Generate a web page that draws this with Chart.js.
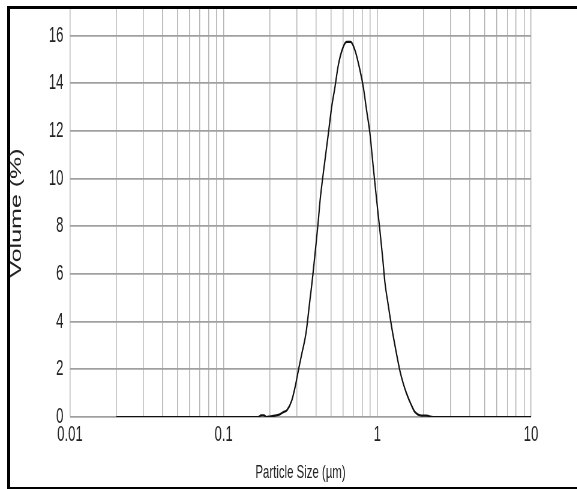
<!DOCTYPE html>
<html>
<head>
<meta charset="utf-8">
<script src="https://cdn.jsdelivr.net/npm/chart.js@4.4.1/dist/chart.umd.min.js"></script>
<style>
  html, body { margin: 0; padding: 0; background: #fff; overflow: hidden; }
  #page { position: relative; width: 577px; height: 489px; overflow: hidden; background: #fff; }
  #frame {
    position: absolute; left: 7px; top: 6px; width: 700px; height: 483px;
    box-sizing: border-box; border-top: 3px solid #000; border-left: 3px solid #000;
    border-bottom: 2px solid #000;
  }
  /* the original plot is squeezed sideways, so draw wide and squash */
  #wrap { position: absolute; left: 0; top: 0; width: 962px; height: 489px; transform: scaleX(0.6); transform-origin: 0 0; }
</style>
</head>
<body>
<div id="page">
  <div id="frame"></div>
  <div id="wrap"><canvas id="psdChart" width="962" height="489"></canvas></div>
</div>
<script>
// particle size (um) and volume (%)
const particleSize = [0.02, 0.05, 0.1, 0.15, 0.168, 0.175, 0.183, 0.19, 0.2, 0.215, 0.232, 0.244,
  0.259, 0.277, 0.291, 0.306, 0.322, 0.343, 0.364, 0.377, 0.393, 0.413, 0.424, 0.456, 0.48, 0.504,
  0.53, 0.557, 0.594, 0.631, 0.67, 0.715, 0.771, 0.81, 0.851, 0.895, 0.94, 0.99, 1.04, 1.082, 1.12,
  1.177, 1.24, 1.334, 1.4, 1.475, 1.55, 1.67, 1.76, 1.94, 2.1, 2.2, 2.3, 5, 10];
const volumePct = [0, 0, 0, 0, 0, 0.07, 0.07, 0, 0.02, 0.06, 0.11, 0.2,
  0.3, 0.68, 1.23, 1.95, 2.64, 3.5, 4.9, 5.73, 6.85, 8.25, 9.09, 10.77, 11.9, 13.0,
  13.85, 14.76, 15.46, 15.74, 15.74, 15.39, 14.55, 13.85, 12.87, 11.89, 10.5, 9.09, 7.8, 6.7, 5.65,
  4.7, 3.76, 2.64, 1.96, 1.4, 0.98, 0.48, 0.2, 0.06, 0.06, 0.02, 0, 0, 0];
const yTicks = [0, 2, 4, 6, 8, 10, 12, 14, 16];
const xLabels = [0.01, 0.1, 1, 10];

const yMax = 17.12;
const SQUASH = 0.6;

// log grid: 1..9 in every decade
const xGrid = [];
for (let e = -2; e <= 0; e++) {
  for (let k = 1; k <= 9; k++) {
    xGrid.push(Number((k * Math.pow(10, e)).toFixed(4)));
  }
}
xGrid.push(10);

const points = particleSize.map((s, i) => ({ x: s, y: volumePct[i] }));

function noEdgePadding(axis) {
  axis.paddingTop = 0;
  axis.paddingBottom = 0;
  axis.paddingLeft = 0;
  axis.paddingRight = 0;
}

const ctx = document.getElementById("psdChart").getContext("2d");
new Chart(ctx, {
  type: "line",
  data: {
    datasets: [
      {
        data: points,
        borderColor: "#111",
        borderWidth: 2.2,
        pointRadius: 0,
        fill: false,
        cubicInterpolationMode: "monotone",
      },
    ],
  },
  options: {
    responsive: false,
    animation: false,
    events: [],
    layout: { padding: { left: 0, top: 9, right: 77, bottom: 0 } },
    plugins: { legend: { display: false }, tooltip: { enabled: false } },
    scales: {
      x: {
        type: "logarithmic",
        min: 0.01,
        max: 10,
        afterBuildTicks: (axis) => {
          axis.ticks = xGrid.map((v) => ({ value: v }));
        },
        afterFit: (axis) => {
          axis.height = 72;
          noEdgePadding(axis);
        },
        ticks: {
          autoSkip: false,
          maxRotation: 0,
          padding: 5,
          color: "#222",
          font: { family: "Liberation Sans", size: 22 },
          callback: (value) => (xLabels.includes(value) ? String(value) : ""),
        },
        grid: { color: "#b4b4b4", lineWidth: 1.5, drawTicks: false },
        border: { display: false },
        title: {
          display: true,
          text: "Particle Size (µm)",
          color: "#222",
          font: { family: "Liberation Sans", size: 19 },
          padding: { top: 0, bottom: 5 },
        },
      },
      y: {
        min: 0,
        max: yMax,
        afterBuildTicks: (axis) => {
          axis.ticks = yTicks.map((v) => ({ value: v }));
        },
        afterFit: (axis) => {
          axis.width = 70 / SQUASH;
          noEdgePadding(axis);
        },
        ticks: {
          padding: 11,
          color: "#222",
          font: { family: "Liberation Sans", size: 22 },
        },
        grid: { color: "#a0a0a0", lineWidth: 1.8, drawTicks: false },
        border: { display: false },
        title: {
          display: true,
          text: "Volume (%)",
          color: "#222",
          font: { family: "Liberation Sans", size: 25 },
          padding: { top: 13, bottom: 0 },
        },
      },
    },
  },
});
</script>
</body>
</html>
